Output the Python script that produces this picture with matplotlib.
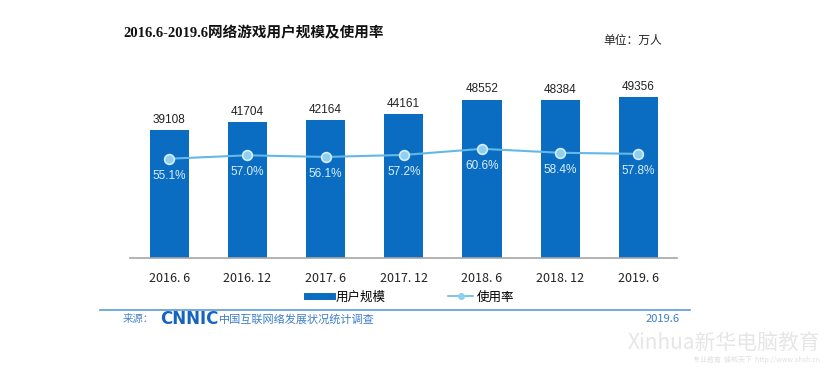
import matplotlib
matplotlib.use("Agg")
import matplotlib.pyplot as plt
from matplotlib.lines import Line2D

plt.rcParams['font.family'] = ['Noto Sans CJK SC', 'DejaVu Sans']

categories = ["2016. 6", "2016. 12", "2017. 6", "2017. 12", "2018. 6", "2018. 12", "2019. 6"]
users = [39108, 41704, 42164, 44161, 48552, 48384, 49356]
rate = [55.1, 57.0, 56.1, 57.2, 60.6, 58.4, 57.8]

bar_color = "#0A6DC2"
line_color = "#62B9E8"

fig = plt.figure(figsize=(8.29, 3.68), dpi=100)
ax = fig.add_axes([130/829, (368-258)/368, 547.5/829, 218/368])
x = list(range(len(categories)))
ax.bar(x, users, width=0.5, color=bar_color, zorder=2)
ax.set_xlim(-0.5, 6.5)
ax.set_ylim(0, 66830)
for i, v in enumerate(users):
    ax.text(i, v + 1300, str(v), ha="center", va="bottom", fontsize=8.5, color="#222222",
            family=['Liberation Sans', 'DejaVu Sans'])

ax2 = ax.twinx()
ax2.set_ylim(0, 121)
ax2.plot(x, rate, color=line_color, lw=1.5, marker="o", markersize=7,
         markerfacecolor="#8FD0F2", markeredgecolor="#D6EEFB", markeredgewidth=1.2, zorder=3)
for i, r in enumerate(rate):
    ax2.text(i, r - 6.2, f"{r:.1f}%", ha="center", va="top", fontsize=8.5, color="#DCEFFF",
             family=['Liberation Sans', 'DejaVu Sans'])

for a in (ax, ax2):
    for s in ["top", "right", "left"]:
        a.spines[s].set_visible(False)
    a.set_yticks([])
ax.spines["bottom"].set_color("#A6A6A6")
ax.spines["bottom"].set_linewidth(1.2)
ax2.spines["bottom"].set_visible(False)
ax.set_xticks(x)
ax.set_xticklabels(categories, fontsize=9, color="#222222")
ax.tick_params(axis="x", length=0, pad=10)

handles = [Line2D([0], [0], color=bar_color, lw=5),
           Line2D([0], [0], color=line_color, lw=1.2, marker="o", markersize=4,
                  markerfacecolor="#8FD0F2", markeredgecolor="#8FD0F2")]
fig.legend(handles, ["用户规模", "使用率"], loc="center", bbox_to_anchor=(411/829, 1-297/368),
           ncol=2, frameon=False, fontsize=9, handlelength=2, columnspacing=5, handletextpad=0.3)

fig.text(123/829, 1-33/368, "2016.6-2019.6网络游戏用户规模及使用率", fontsize=10.5,
         fontweight="bold", va="center", ha="left", color="#111111",
         family=['Liberation Serif', 'Noto Sans CJK SC'])
fig.text(662/829, 1-40/368, "单位：万人", fontsize=8.5, va="center", ha="right", color="#222222")

fig.add_artist(Line2D([100/829, 690/829], [1-310/368, 1-310/368], color="#5B9BD5", lw=1.2))
fig.text(123/829, 1-319/368, "来源：", fontsize=7.5, va="center", ha="left", color="#4A86C8")
fig.text(160/829, 1-319/368, "CNNIC", fontsize=12, fontweight="bold", va="center", ha="left",
         color="#1565C0", family=['DejaVu Sans'])
fig.text(219/829, 1-319/368, "中国互联网络发展状况统计调查", fontsize=8, va="center", ha="left", color="#3D7FC8")
fig.text(680/829, 1-319/368, "2019.6", fontsize=8, va="center", ha="right", color="#3D7FC8")

fig.text(820/829, 1-343/368, "Xinhua新华电脑教育", fontsize=15, style="italic", va="center", ha="right",
         color="#E6E6E6")
fig.text(820/829, 1-360/368, "专业教育  铸就天下  http://www.xhxh.cn", fontsize=5, style="italic",
         va="center", ha="right", color="#E0E0E0")

fig.savefig("out.png", dpi=100, facecolor="white")
